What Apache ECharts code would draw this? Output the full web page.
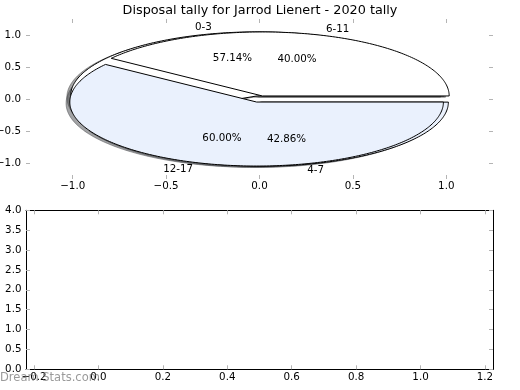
<!DOCTYPE html>
<html>
<head>
<meta charset="utf-8">
<script src="https://cdn.jsdelivr.net/npm/echarts@6/dist/echarts.min.js"></script>
<style>
  html, body { margin: 0; padding: 0; background: #fff; }
  #chart { width: 520px; height: 390px; }
</style>
</head>
<body>
<div id="chart"></div>
<script>
// ---- data ----
const titleText = 'Disposal tally for Jarrod Lienert - 2020 tally';
const pieALabels = ['0-3', '4-7'];
const pieAValues = [4, 3];
const pieBLabels = ['6-11', '12-17'];
const pieBValues = [2, 3];
const sliceColors = ['#ffffff', '#eaf1fd'];
const topXTicks = [-1.0, -0.5, 0.0, 0.5, 1.0];
const topYTicks = [-1.0, -0.5, 0.0, 0.5, 1.0];
const bottomXTicks = [-0.2, 0.0, 0.2, 0.4, 0.6, 0.8, 1.0, 1.2];
const bottomYTicks = [0.0, 0.5, 1.0, 1.5, 2.0, 2.5, 3.0, 3.5, 4.0];
const watermark = 'Dream Stats.com';

// ---- build ----
const FONT = 'DejaVu Sans';
const FS = 10.3;
const EXPLODE = 0.05;
const TICK_COLOR = '#b4b4b4';

function fmt1(v) { return (v < 0 ? '\u2212' : '') + Math.abs(v).toFixed(1); }

function buildWedges(values, labels) {
  const total = values.reduce((a, b) => a + b, 0);
  let theta = 0;
  return values.map((v, i) => {
    const t1 = theta, t2 = theta + 360 * v / total;
    theta = t2;
    const mid = (t1 + t2) / 2 * Math.PI / 180;
    return {
      t1, t2, mid,
      cx: EXPLODE * Math.cos(mid), cy: EXPLODE * Math.sin(mid),
      color: sliceColors[i % sliceColors.length],
      label: labels[i],
      pct: (100 * v / total).toFixed(2) + '%'
    };
  });
}
const wedgesA = buildWedges(pieAValues, pieALabels);
const wedgesB = buildWedges(pieBValues, pieBLabels);
const allWedges = wedgesA.concat(wedgesB);

function wedgePoints(api, w, dx, dy) {
  const pts = [api.coord([w.cx + dx, w.cy + dy])];
  const n = Math.max(8, Math.ceil(w.t2 - w.t1));
  for (let k = 0; k <= n; k++) {
    const a = (w.t1 + (w.t2 - w.t1) * k / n) * Math.PI / 180;
    pts.push(api.coord([w.cx + dx + Math.cos(a), w.cy + dy + Math.sin(a)]));
  }
  return pts;
}
function shadowColor(hex) {
  const r = parseInt(hex.slice(1, 3), 16), g = parseInt(hex.slice(3, 5), 16), b = parseInt(hex.slice(5, 7), 16);
  return 'rgba(' + Math.round(0.3 * r) + ',' + Math.round(0.3 * g) + ',' + Math.round(0.3 * b) + ',0.5)';
}

function wedgeSeries(list, name, z) {
  return {
    type: 'custom', name, coordinateSystem: 'cartesian2d', xAxisIndex: 0, yAxisIndex: 0, z,
    silent: true, clip: false,
    data: list.map((w, i) => [i, 0]),
    renderItem: (params, api) => {
      const w = list[params.dataIndex];
      return { type: 'polygon', shape: { points: wedgePoints(api, w, 0, 0) },
        style: { fill: w.color, stroke: '#000', lineWidth: 1 } };
    }
  };
}

const axisText = { color: '#000', fontSize: FS, fontFamily: FONT };
function valAxis(extra) {
  return Object.assign({ type: 'value', splitLine: { show: false } }, extra);
}

const option = {
  animation: false,
  backgroundColor: '#fff',
  title: { text: titleText, left: 'center', top: -1,
    textStyle: { color: '#000', fontSize: 12.8, fontWeight: 'normal', fontFamily: FONT } },
  grid: [
    { left: 26, top: 19, width: 467, height: 160, outerBoundsMode: 'none', containLabel: false },
    { left: 26, top: 210.3, width: 467, height: 159, outerBoundsMode: 'none', containLabel: false }
  ],
  xAxis: [
    valAxis({ gridIndex: 0, min: -1.25, max: 1.25, position: 'bottom',
      axisLine: { show: false, onZero: false },
      axisTick: { show: true, inside: true, length: 4, lineStyle: { color: TICK_COLOR }, customValues: topXTicks },
      axisLabel: Object.assign({ customValues: topXTicks, formatter: fmt1, margin: 2 }, axisText) }),
    valAxis({ gridIndex: 0, min: -1.25, max: 1.25, position: 'top',
      axisLine: { show: false, onZero: false },
      axisTick: { show: true, inside: true, length: 4, lineStyle: { color: TICK_COLOR }, customValues: topXTicks },
      axisLabel: { show: false } }),
    valAxis({ gridIndex: 1, min: -0.225, max: 1.225, position: 'bottom',
      axisLine: { show: true, onZero: false, lineStyle: { color: '#000', width: 1 } },
      axisTick: { show: true, inside: true, length: 4, lineStyle: { color: TICK_COLOR }, customValues: bottomXTicks },
      axisLabel: Object.assign({ customValues: bottomXTicks, formatter: fmt1, margin: 3 }, axisText) }),
    valAxis({ gridIndex: 1, min: -0.225, max: 1.225, position: 'top',
      axisLine: { show: true, onZero: false, lineStyle: { color: '#000', width: 1 } },
      axisTick: { show: true, inside: true, length: 4, lineStyle: { color: TICK_COLOR }, customValues: bottomXTicks },
      axisLabel: { show: false } })
  ],
  yAxis: [
    valAxis({ gridIndex: 0, min: -1.25, max: 1.25, position: 'left',
      axisLine: { show: false, onZero: false },
      axisTick: { show: true, inside: true, length: 4, lineStyle: { color: TICK_COLOR }, customValues: topYTicks },
      axisLabel: Object.assign({ customValues: topYTicks, formatter: fmt1, margin: 5 }, axisText) }),
    valAxis({ gridIndex: 0, min: -1.25, max: 1.25, position: 'right',
      axisLine: { show: false, onZero: false },
      axisTick: { show: true, inside: true, length: 4, lineStyle: { color: TICK_COLOR }, customValues: topYTicks },
      axisLabel: { show: false } }),
    valAxis({ gridIndex: 1, min: 0, max: 4, position: 'left',
      axisLine: { show: true, onZero: false, lineStyle: { color: '#000', width: 1 } },
      axisTick: { show: true, inside: true, length: 4, lineStyle: { color: TICK_COLOR }, customValues: bottomYTicks },
      axisLabel: Object.assign({ customValues: bottomYTicks, formatter: fmt1, margin: 4.5 }, axisText) }),
    valAxis({ gridIndex: 1, min: 0, max: 4, position: 'right',
      axisLine: { show: true, onZero: false, lineStyle: { color: '#000', width: 1 } },
      axisTick: { show: true, inside: true, length: 4, lineStyle: { color: TICK_COLOR }, customValues: bottomYTicks },
      axisLabel: { show: false } })
  ],
  graphic: [
    { type: 'text', left: 0, top: 372, z: 100, silent: true,
      style: { text: watermark, fill: 'rgba(120,120,120,0.75)', fontSize: 11.5, fontFamily: FONT } }
  ],
  series: [
    {
      type: 'custom', name: 'shadows', coordinateSystem: 'cartesian2d', xAxisIndex: 0, yAxisIndex: 0, z: 1,
      silent: true, clip: false,
      data: allWedges.map((w, i) => [i, 0]),
      renderItem: (params, api) => {
        const w = allWedges[params.dataIndex];
        const c = shadowColor(w.color);
        return { type: 'polygon', shape: { points: wedgePoints(api, w, -0.02, -0.02) },
          style: { fill: c, stroke: c, lineWidth: 1 } };
      }
    },
    wedgeSeries(wedgesA, 'pieA', 2),
    wedgeSeries(wedgesB, 'pieB', 3),
    {
      type: 'custom', name: 'labels', coordinateSystem: 'cartesian2d', xAxisIndex: 0, yAxisIndex: 0, z: 5,
      silent: true, clip: false,
      data: allWedges.map((w, i) => [i, 0]),
      renderItem: (params, api) => {
        const w = allWedges[params.dataIndex];
        const lx = w.cx + 1.1 * Math.cos(w.mid), ly = w.cy + 1.1 * Math.sin(w.mid);
        const px = w.cx + 0.6 * Math.cos(w.mid), py = w.cy + 0.6 * Math.sin(w.mid);
        const lp = api.coord([lx, ly]), pp = api.coord([px, py]);
        const al = lx < 0 ? 'right' : 'left';
        return { type: 'group', children: [
          { type: 'text', x: lp[0], y: lp[1],
            style: { text: w.label, fill: '#000', fontSize: FS, fontFamily: FONT,
              align: al, textAlign: al, verticalAlign: 'middle', textVerticalAlign: 'middle' } },
          { type: 'text', x: pp[0], y: pp[1],
            style: { text: w.pct, fill: '#000', fontSize: FS, fontFamily: FONT,
              align: 'center', textAlign: 'center', verticalAlign: 'middle', textVerticalAlign: 'middle' } }
        ] };
      }
    }
  ]
};

const chart = echarts.init(document.getElementById('chart'), null, { renderer: 'canvas' });
chart.setOption(option);
</script>
</body>
</html>
